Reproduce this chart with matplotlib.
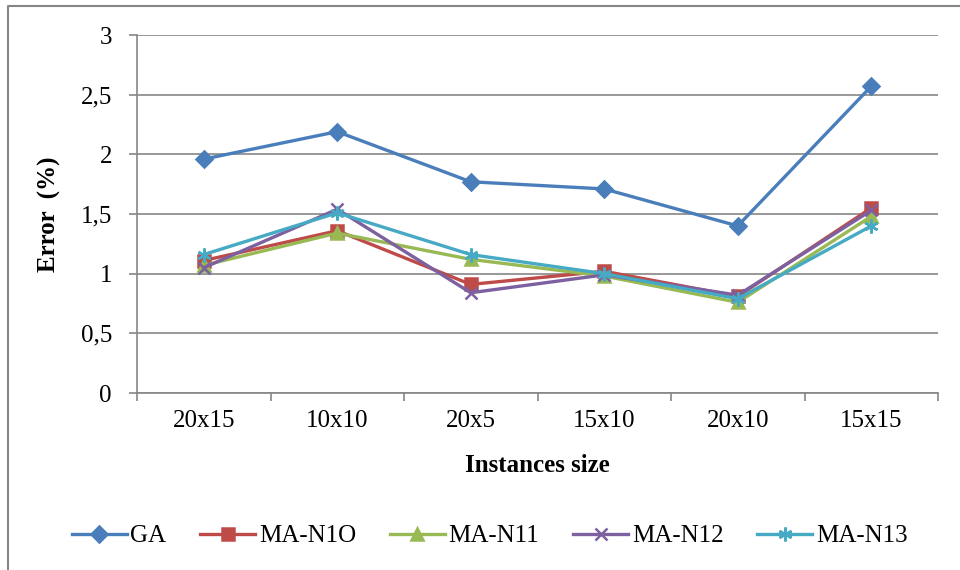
import matplotlib
matplotlib.use('Agg')
import matplotlib.pyplot as plt
from matplotlib.lines import Line2D
from matplotlib.ticker import FuncFormatter

sizes = ['20x15', '10x10', '20x5', '15x10', '20x10', '15x15']
ga     = [1.96, 2.19, 1.77, 1.71, 1.40, 2.57]
ma_n10 = [1.11, 1.36, 0.91, 1.02, 0.81, 1.55]
ma_n11 = [1.07, 1.34, 1.12, 0.98, 0.76, 1.48]
ma_n12 = [1.05, 1.54, 0.84, 0.99, 0.82, 1.53]
ma_n13 = [1.16, 1.51, 1.16, 1.00, 0.79, 1.40]

series = [
    ("GA",      ga,     '#4A7EBB', 'D', 8),
    ("MA-N1O",  ma_n10, '#BE4B48', 's', 8),
    ("MA-N11",  ma_n11, '#98B954', '^', 9),
    ("MA-N12",  ma_n12, '#7D60A0', 'x', 9),
    ("MA-N13",  ma_n13, '#46AAC5', (6, 2, 0), 10),
]

plt.rcParams['font.family'] = ['Liberation Serif', 'DejaVu Serif']
grey = '#868686'

fig = plt.figure(figsize=(9.6, 5.7), dpi=100)
ax = fig.add_axes([137/960, 1 - 393/570, (938 - 137)/960, (393 - 35)/570])

x = [i + 0.5 for i in range(len(sizes))]
for name, vals, col, mk, ms in series:
    ax.plot(x, vals, color=col, lw=2.4, marker=mk, markersize=ms,
            markerfacecolor=col, markeredgecolor=col, markeredgewidth=1.8,
            label=name)

ax.set_xlim(0, len(sizes))
ax.set_ylim(0, 3)
ax.set_yticks([0, 0.5, 1, 1.5, 2, 2.5, 3])
ax.yaxis.set_major_formatter(FuncFormatter(lambda v, p: f'{v:g}'.replace('.', ',')))
ax.set_xticks(range(len(sizes) + 1))
ax.set_xticklabels([])
ax.set_xticks(x, minor=True)
ax.set_xticklabels(sizes, minor=True)
ax.tick_params(axis='x', which='minor', length=0, pad=12, labelsize=18)
ax.tick_params(axis='x', which='major', length=6, width=1.2, color=grey)
ax.tick_params(axis='y', length=6, width=1.2, color=grey, pad=12, labelsize=18)

ax.grid(axis='y', color=grey, lw=1.2)
ax.set_axisbelow(True)
for s in ['top', 'right']:
    ax.spines[s].set_visible(False)
for s in ['left', 'bottom']:
    ax.spines[s].set_color(grey)
    ax.spines[s].set_linewidth(1.2)

ax.set_ylabel('Error  (%)', fontsize=18, fontweight='bold', labelpad=14)
ax.set_xlabel('Instances size', fontsize=18, fontweight='bold', labelpad=16)

fig.legend(loc='center', bbox_to_anchor=(0.51, 1 - 536/570), ncol=5,
           frameon=False, fontsize=18, handlelength=2.2, handletextpad=0.15,
           columnspacing=1.35)

# outer chart frame (left and top edges visible)
fig.add_artist(Line2D([8/960, 8/960, 1], [0, 1 - 6/570, 1 - 6/570],
                      transform=fig.transFigure, color=grey, lw=1.5))

fig.savefig('out.png', dpi=100)
